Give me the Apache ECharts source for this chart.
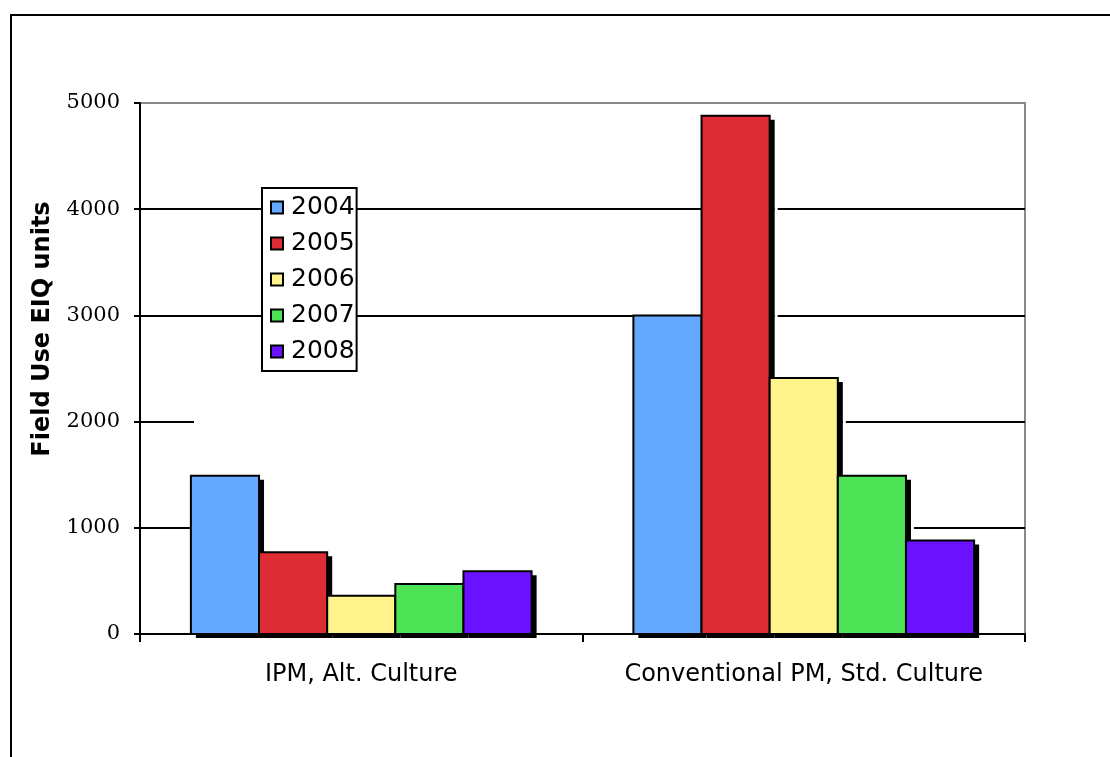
<!DOCTYPE html>
<html>
<head>
<meta charset="utf-8">
<script src="https://cdn.jsdelivr.net/npm/echarts@6/dist/echarts.min.js"></script>
<style>
html,body{margin:0;padding:0;background:#fff;}
#chart{width:1110px;height:757px;}
</style>
</head>
<body>
<div id="chart"></div>
<script>
var categories = ['IPM, Alt. Culture', 'Conventional PM, Std. Culture'];
var years = ['2004', '2005', '2006', '2007', '2008'];
var values2004 = [1490, 3000];
var values2005 = [770, 4880];
var values2006 = [360, 2410];
var values2007 = [470, 1490];
var values2008 = [590, 880];
var yTicks = [0, 1000, 2000, 3000, 4000, 5000];
var colors = ['#64a9ff', '#dd2c33', '#fff38c', '#4ee257', '#6a12ff'];

var seriesValues = [values2004, values2005, values2006, values2007, values2008];
var CAT_GAP = 0.23;

var chart = echarts.init(document.getElementById('chart'));
var series = years.map(function (y, i) {
  return {
    name: y,
    type: 'custom',
    z: 3,
    itemStyle: { color: colors[i], borderColor: '#000', borderWidth: 2 },
    data: seriesValues[i].map(function (v, j) { return [j, v]; }),
    encode: { x: 0, y: 1 },
    renderItem: function (params, api) {
      var cat = api.value(0), val = api.value(1);
      var base = api.coord([cat, 0]);
      var top = api.coord([cat, val]);
      var band = api.size([1, 0])[0];
      var gw = band * (1 - CAT_GAP);
      var bw = gw / years.length;
      var x = base[0] - gw / 2 + i * bw;
      var h = base[1] - top[1];
      return {
        type: 'group',
        children: [
          { type: 'rect', shape: { x: x + bw + 5, y: top[1] + 4, width: 3, height: h - 4 }, style: { fill: '#fff' } },
          { type: 'rect', shape: { x: x + 5, y: top[1] + 4, width: bw, height: h }, style: { fill: '#000' } },
          { type: 'rect', shape: { x: x, y: top[1], width: bw, height: h }, style: { fill: colors[i], stroke: '#000', lineWidth: 2 } }
        ]
      };
    }
  };
});

chart.setOption({
  animation: false,
  backgroundColor: '#fff',
  grid: {
    left: 140, right: 85, top: 103, bottom: 123,
    show: true, borderColor: '#888', borderWidth: 2, backgroundColor: 'transparent'
  },
  legend: {
    data: years,
    orient: 'vertical',
    left: 262, top: 188,
    padding: [7, 2, 7, 8],
    backgroundColor: '#fff',
    borderColor: '#000',
    borderWidth: 2,
    itemWidth: 12, itemHeight: 12,
    itemGap: 11,
    icon: 'rect',
    itemStyle: { borderColor: '#000', borderWidth: 2 },
    textStyle: { fontFamily: 'DejaVu Sans', fontSize: 25, color: '#000', padding: [0, 0, 0, 3] },
    z: 10
  },
  xAxis: {
    type: 'category',
    data: categories,
    axisLine: { lineStyle: { color: '#000', width: 2 } },
    axisTick: { show: true, interval: 0, length: 8, lineStyle: { color: '#000', width: 2 } },
    axisLabel: { fontFamily: 'DejaVu Sans', fontSize: 24, color: '#000', margin: 29, interval: 0 },
    z: 5
  },
  yAxis: {
    type: 'value',
    min: yTicks[0], max: yTicks[yTicks.length - 1], interval: 1000,
    axisLine: { show: true, lineStyle: { color: '#000', width: 2 } },
    axisTick: { show: true, length: 6, lineStyle: { color: '#000', width: 2 } },
    axisLabel: { fontFamily: 'DejaVu Serif', fontSize: 21, color: '#000', margin: 20, formatter: function (v) { return String(v); } },
    splitLine: { show: true, lineStyle: { color: ['#000', '#000', '#000', '#000', '#000', '#888'], width: 2 } }
  },
  graphic: [
    { type: 'rect', z: 1, silent: true, shape: { x: 194, y: 372, width: 439, height: 260 }, style: { fill: '#fff' } },
    { type: 'rect', z: 0, silent: true, shape: { x: 11, y: 15, width: 1200, height: 900 }, style: { fill: 'none', stroke: '#000', lineWidth: 2 } },
    { type: 'text', z: 5, x: 43, y: 329, rotation: Math.PI / 2,
      style: { text: 'Field Use EIQ units', font: 'bold 24px "DejaVu Sans"', fill: '#000', textAlign: 'center', textVerticalAlign: 'middle' } }
  ],
  series: series
});
</script>
</body>
</html>
